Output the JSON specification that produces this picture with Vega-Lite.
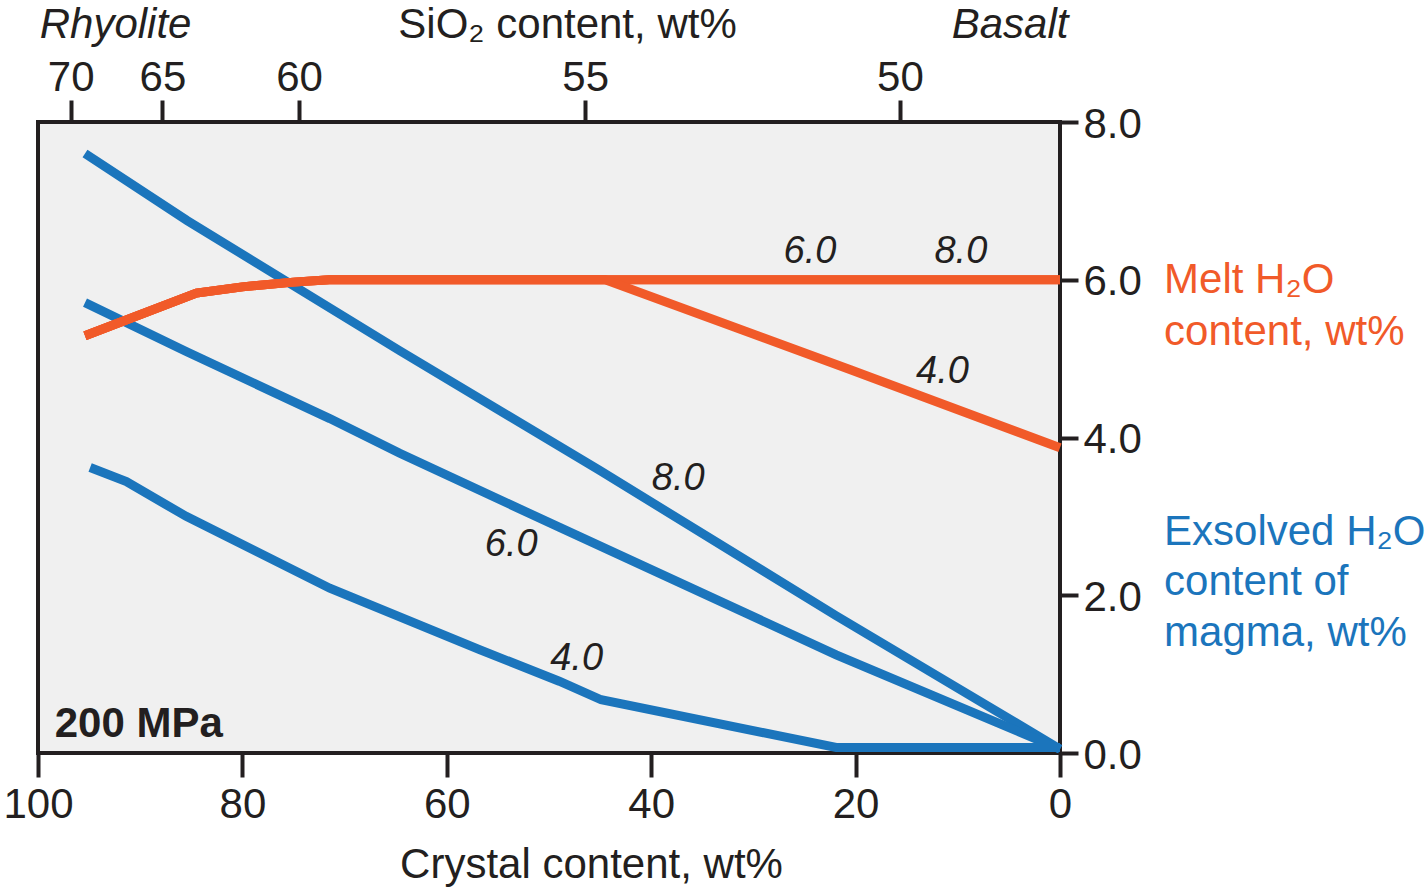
{
  "$schema": "https://vega.github.io/schema/vega-lite/v6.json",
  "width": 1022,
  "height": 631,
  "autosize": {"type": "none"},
  "padding": {"left": 38, "top": 122, "right": 367, "bottom": 142},
  "background": "white",
  "config": {
    "view": {"stroke": "#231f20", "strokeWidth": 4, "fill": "#f0f0f0"},
    "font": "Liberation Sans",
    "axis": {
      "domain": false,
      "grid": false,
      "tickColor": "#231f20",
      "tickWidth": 4,
      "labelColor": "#231f20",
      "labelFont": "Liberation Sans",
      "labelFontSize": 42,
      "titleFont": "Liberation Sans",
      "titleFontSize": 42,
      "titleFontWeight": "normal",
      "titleColor": "#231f20",
      "labelFlush": false,
      "labelOverlap": false,
      "labelBound": false
    },
    "text": {"font": "Liberation Sans", "color": "#231f20"}
  },
  "encoding": {
    "x": {"field": "crystal", "type": "quantitative", "scale": {"domain": [0, 100], "reverse": true, "nice": false, "zero": false}, "axis": null},
    "y": {
      "field": "h2o",
      "type": "quantitative",
      "scale": {"domain": [0, 8], "nice": false},
      "axis": {"orient": "right", "values": [0, 2, 4, 6, 8], "format": ".1f", "title": null, "tickSize": 18, "labelPadding": 5, "labelBaseline": "alphabetic", "labelOffset": 15}
    }
  },
  "layer": [
    {
      "description": "Exsolved H2O content of magma for initial H2O of 4, 6 and 8 wt%",
      "data": {
        "values": [
          {"series": "8.0", "crystal": 95.4, "h2o": 7.60},
          {"series": "8.0", "crystal": 85.4, "h2o": 6.75},
          {"series": "8.0", "crystal": 64.6, "h2o": 5.10},
          {"series": "8.0", "crystal": 45.0, "h2o": 3.58},
          {"series": "8.0", "crystal": 21.9, "h2o": 1.74},
          {"series": "8.0", "crystal": 0.0, "h2o": 0.05},
          {"series": "6.0", "crystal": 95.4, "h2o": 5.71},
          {"series": "6.0", "crystal": 85.5, "h2o": 5.09},
          {"series": "6.0", "crystal": 71.45, "h2o": 4.24},
          {"series": "6.0", "crystal": 64.6, "h2o": 3.80},
          {"series": "6.0", "crystal": 48.96, "h2o": 2.86},
          {"series": "6.0", "crystal": 21.9, "h2o": 1.245},
          {"series": "6.0", "crystal": 0.0, "h2o": 0.05},
          {"series": "4.0", "crystal": 94.9, "h2o": 3.62},
          {"series": "4.0", "crystal": 91.35, "h2o": 3.44},
          {"series": "4.0", "crystal": 85.5, "h2o": 3.00},
          {"series": "4.0", "crystal": 71.45, "h2o": 2.09},
          {"series": "4.0", "crystal": 56.8, "h2o": 1.31},
          {"series": "4.0", "crystal": 49.0, "h2o": 0.91},
          {"series": "4.0", "crystal": 44.9, "h2o": 0.675},
          {"series": "4.0", "crystal": 21.9, "h2o": 0.07},
          {"series": "4.0", "crystal": 0.0, "h2o": 0.07}
        ]
      },
      "mark": {"type": "line", "color": "#1b75bc", "strokeWidth": 9},
      "encoding": {
        "x": {
          "field": "crystal",
          "type": "quantitative",
          "scale": {"domain": [0, 100], "reverse": true, "nice": false, "zero": false},
          "axis": {
            "orient": "bottom",
            "values": [100, 80, 60, 40, 20, 0],
            "format": "d",
            "title": "Crystal content, wt%",
            "tickSize": 24,
            "labelPadding": 40,
            "labelBaseline": "alphabetic",
            "titleX": 553,
            "titleY": 124,
            "titleBaseline": "alphabetic",
            "titleAlign": "center"
          }
        },
        "detail": {"field": "series"}
      }
    },
    {
      "description": "Melt H2O content for initial H2O of 4, 6 and 8 wt%",
      "data": {
        "values": [
          {"series": "8.0", "crystal": 95.4, "h2o": 5.29},
          {"series": "8.0", "crystal": 84.5, "h2o": 5.83},
          {"series": "8.0", "crystal": 80.0, "h2o": 5.91},
          {"series": "8.0", "crystal": 75.0, "h2o": 5.97},
          {"series": "8.0", "crystal": 71.5, "h2o": 6.0},
          {"series": "8.0", "crystal": 44.5, "h2o": 6.0},
          {"series": "8.0", "crystal": 0.0, "h2o": 6.0},
          {"series": "6.0", "crystal": 95.4, "h2o": 5.29},
          {"series": "6.0", "crystal": 84.5, "h2o": 5.83},
          {"series": "6.0", "crystal": 80.0, "h2o": 5.91},
          {"series": "6.0", "crystal": 75.0, "h2o": 5.97},
          {"series": "6.0", "crystal": 71.5, "h2o": 6.0},
          {"series": "6.0", "crystal": 44.5, "h2o": 6.0},
          {"series": "6.0", "crystal": 0.0, "h2o": 6.0},
          {"series": "4.0", "crystal": 95.4, "h2o": 5.29},
          {"series": "4.0", "crystal": 84.5, "h2o": 5.83},
          {"series": "4.0", "crystal": 80.0, "h2o": 5.91},
          {"series": "4.0", "crystal": 75.0, "h2o": 5.97},
          {"series": "4.0", "crystal": 71.5, "h2o": 6.0},
          {"series": "4.0", "crystal": 44.5, "h2o": 6.0},
          {"series": "4.0", "crystal": 20.5, "h2o": 4.86},
          {"series": "4.0", "crystal": 0.0, "h2o": 3.87}
        ]
      },
      "mark": {"type": "line", "color": "#f15a29", "strokeWidth": 9},
      "encoding": {
        "x": {
          "field": "crystal",
          "type": "quantitative",
          "scale": {"domain": [0, 100], "reverse": true, "nice": false, "zero": false},
          "axis": {
            "orient": "top",
            "values": [96.8, 87.82, 74.45, 46.46, 15.66],
            "labelExpr": "datum.value > 92 ? '70' : datum.value > 80 ? '65' : datum.value > 60 ? '60' : datum.value > 30 ? '55' : '50'",
            "title": "SiO\u2082 content, wt%",
            "tickSize": 22,
            "labelPadding": 10,
            "labelBaseline": "alphabetic",
            "titleX": 529,
            "titleY": -85,
            "titleBaseline": "alphabetic",
            "titleAlign": "center"
          }
        },
        "detail": {"field": "series"}
      }
    },
    {
      "description": "Initial H2O labels on each curve",
      "data": {
        "values": [
          {"crystal": 24.47, "h2o": 6.21, "label": "6.0"},
          {"crystal": 9.7, "h2o": 6.21, "label": "8.0"},
          {"crystal": 11.5, "h2o": 4.69, "label": "4.0"},
          {"crystal": 37.36, "h2o": 3.335, "label": "8.0"},
          {"crystal": 53.7, "h2o": 2.50, "label": "6.0"},
          {"crystal": 47.3, "h2o": 1.055, "label": "4.0"}
        ]
      },
      "mark": {"type": "text", "fontSize": 38, "fontStyle": "italic", "align": "center", "baseline": "alphabetic"},
      "encoding": {"text": {"field": "label"}}
    },
    {
      "data": {"values": [{"crystal": 98.37, "h2o": 0.207, "label": "200 MPa"}]},
      "mark": {"type": "text", "fontSize": 42, "fontWeight": "bold", "align": "left", "baseline": "alphabetic"},
      "encoding": {"text": {"field": "label"}}
    },
    {
      "data": {
        "values": [
          {"crystal": 99.83, "h2o": 9.07, "label": "Rhyolite"},
          {"crystal": 10.6, "h2o": 9.07, "label": "Basalt"}
        ]
      },
      "mark": {"type": "text", "fontSize": 42, "fontStyle": "italic", "align": "left", "baseline": "alphabetic"},
      "encoding": {"text": {"field": "label"}}
    },
    {
      "data": {"values": [{"crystal": -10.18, "h2o": 5.83, "label": "Melt H\u2082O\ncontent, wt%"}]},
      "mark": {"type": "text", "fontSize": 42, "color": "#f15a29", "align": "left", "baseline": "alphabetic", "lineBreak": "\n", "lineHeight": 52},
      "encoding": {"text": {"field": "label"}}
    },
    {
      "data": {"values": [{"crystal": -10.18, "h2o": 2.64, "label": "Exsolved H\u2082O\ncontent of\nmagma, wt%"}]},
      "mark": {"type": "text", "fontSize": 42, "color": "#1b75bc", "align": "left", "baseline": "alphabetic", "lineBreak": "\n", "lineHeight": 50.5},
      "encoding": {"text": {"field": "label"}}
    }
  ],
  "resolve": {"axis": {"x": "independent"}}
}
